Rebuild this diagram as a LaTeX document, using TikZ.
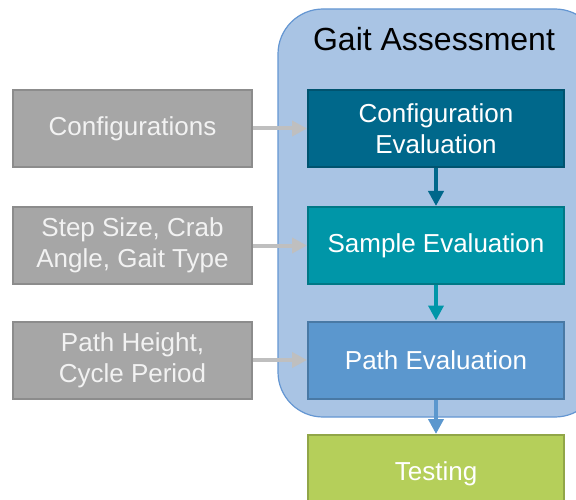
\documentclass[tikz,border=0pt]{standalone}
\usepackage{fontspec}
\setmainfont{Liberation Sans}
\usepackage{tikz}
\usetikzlibrary{arrows.meta, positioning}

\definecolor{groupfill}{RGB}{169,196,228}
\definecolor{groupline}{RGB}{100,150,210}
\definecolor{confcol}{RGB}{0,104,139}
\definecolor{samplecol}{RGB}{0,150,168}
\definecolor{pathcol}{RGB}{91,151,206}
\definecolor{testcol}{RGB}{181,207,90}
\definecolor{inputfill}{RGB}{166,166,166}
\definecolor{inputline}{RGB}{140,140,140}
\definecolor{feedcol}{RGB}{191,191,191}

\begin{document}
\begin{tikzpicture}[
    x=1pt, y=-1pt,
    stage/.style={rectangle, draw=#1!80!black, fill=#1, line width=2pt,
        minimum width=256pt, minimum height=77pt, align=center,
        text=white, font=\fontsize{26}{31}\selectfont},
    input/.style={rectangle, draw=inputline, fill=inputfill, line width=2pt,
        minimum width=239pt, minimum height=77pt, align=center,
        text=white!95!black, font=\fontsize{26}{31}\selectfont},
    feed/.style={draw=feedcol, line width=4pt, -{Triangle[length=15pt, width=15pt]}},
    flow/.style={draw=#1, line width=4pt, -{Triangle[length=15pt, width=15pt]}}
]

\clip (0,0) rectangle (576,500);

% --- Gait assessment group ---
\draw[groupline, fill=groupfill, line width=1.2pt, rounded corners=45pt]
    (278,9) rectangle (600,417);
\node[font=\fontsize{32}{38}\selectfont] (title) at (434,39) {Gait Assessment};

% --- Stages ---
\node[stage=confcol] (confeval) at (436,128.5) {Configuration\\Evaluation};
\node[stage=samplecol] (sampleeval) at (436,245.5) {Sample Evaluation};
\node[stage=pathcol] (patheval) at (436,360) {Path Evaluation};
\node[stage=testcol] (testing) at (436,473.5) {Testing};

% --- Inputs ---
\node[input] (conf) at (132.5,128.5) {Configurations};
\node[input] (step) at (132.5,245.5) {Step Size, Crab\\Angle, Gait Type};
\node[input] (height) at (132.5,360) {Path Height,\\Cycle Period};

% --- Connectors ---
\draw[feed] (conf) -- (confeval);
\draw[feed] (step) -- (sampleeval);
\draw[feed] (height) -- (patheval);

\draw[flow=confcol] (confeval) -- (sampleeval);
\draw[flow=samplecol] (sampleeval) -- (patheval);
\draw[flow=pathcol] (patheval) -- (testing);

\end{tikzpicture}
\end{document}
